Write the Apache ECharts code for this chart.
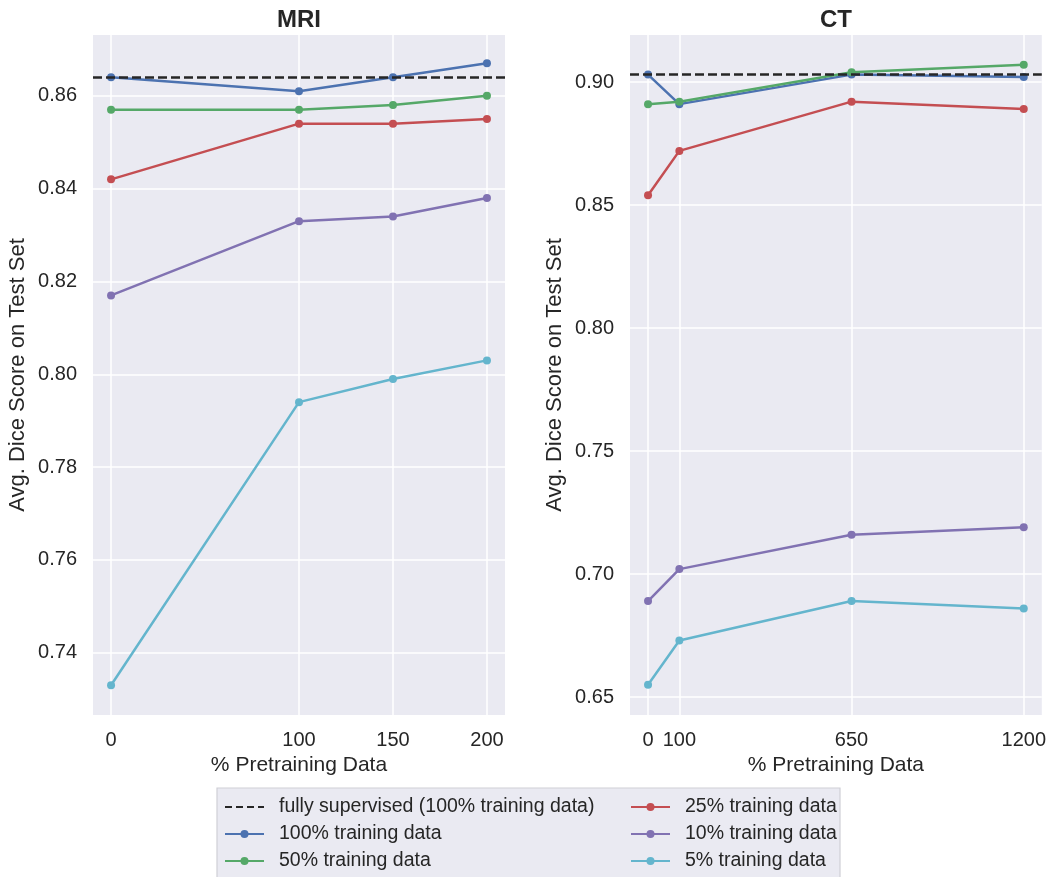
<!DOCTYPE html>
<html>
<head>
<meta charset="utf-8">
<script src="https://cdn.jsdelivr.net/npm/echarts@6/dist/echarts.min.js"></script>
<style>
html,body{margin:0;padding:0;background:#fff;}
#chart{width:1049px;height:877px;}
</style>
</head>
<body>
<div id="chart"></div>
<script>
// ---- data ----
const seriesNames = ['100% training data','50% training data','25% training data','10% training data','5% training data'];
const supervisedName = 'fully supervised (100% training data)';

const mriX = [0, 100, 150, 200];
const mriTicksX = [0, 100, 150, 200];
const mriTicksY = [0.74, 0.76, 0.78, 0.80, 0.82, 0.84, 0.86];
const mriSupervised = 0.864;
const mri100 = [0.864, 0.861, 0.864, 0.867];
const mri50  = [0.857, 0.857, 0.858, 0.860];
const mri25  = [0.842, 0.854, 0.854, 0.855];
const mri10  = [0.817, 0.833, 0.834, 0.838];
const mri5   = [0.733, 0.794, 0.799, 0.803];

const ctX = [0, 100, 650, 1200];
const ctTicksX = [0, 100, 650, 1200];
const ctTicksY = [0.65, 0.70, 0.75, 0.80, 0.85, 0.90];
const ctSupervised = 0.903;
const ct100 = [0.903, 0.891, 0.903, 0.902];
const ct50  = [0.891, 0.892, 0.904, 0.907];
const ct25  = [0.854, 0.872, 0.892, 0.889];
const ct10  = [0.689, 0.702, 0.716, 0.719];
const ct5   = [0.655, 0.673, 0.689, 0.686];

// ---- styling ----
const colors = ['#4c72b0','#55a868','#c44e52','#8172b2','#64b5cd'];
const FONT = '"Liberation Sans", Arial, sans-serif';
const TXT = '#262626';

function pairs(xs, ys){ return xs.map((x,i)=>[x, ys[i]]); }

function xAxisOpt(idx, min, max, ticks){
  return {
    type:'value', gridIndex:idx, min:min, max:max,
    name:'% Pretraining Data', nameLocation:'middle', nameGap:38,
    nameTextStyle:{fontFamily:FONT, fontSize:21, color:TXT},
    axisLine:{show:false}, axisTick:{show:false, customValues:ticks},
    axisLabel:{customValues:ticks, fontFamily:FONT, fontSize:20, color:TXT, margin:15,
      formatter:(v)=>String(v)},
    splitLine:{show:true, lineStyle:{color:'#ffffff', width:1.5}}
  };
}
function yAxisOpt(idx, min, max, ticks){
  return {
    type:'value', gridIndex:idx, min:min, max:max,
    name:'Avg. Dice Score on Test Set', nameLocation:'middle', nameGap:64,
    nameTextStyle:{fontFamily:FONT, fontSize:22, color:TXT},
    axisLine:{show:false}, axisTick:{show:false, customValues:ticks},
    axisLabel:{customValues:ticks, fontFamily:FONT, fontSize:20, color:TXT, margin:16,
      formatter:(v)=>v.toFixed(2)},
    splitLine:{show:true, lineStyle:{color:'#ffffff', width:1.5}}
  };
}

function makeSeries(idx, xs, sup, dataSets){
  const out = [{
    name: supervisedName, type:'line', xAxisIndex:idx, yAxisIndex:idx,
    data: [], symbol:'none', color:'#262626',
    lineStyle:{color:'#262626', width:2.5, type:[7,4]},
    markLine:{silent:true, symbol:'none', precision:4, label:{show:false},
      lineStyle:{color:'#262626', width:2.5, type:[9,4]},
      emphasis:{disabled:true},
      data:[{yAxis: sup}]},
    z:1
  }];
  dataSets.forEach((d,i)=>{
    out.push({
      name: seriesNames[i], type:'line', xAxisIndex:idx, yAxisIndex:idx,
      data: pairs(xs, d), symbol:'circle', symbolSize:8,
      color: colors[i], lineStyle:{color:colors[i], width:2.5},
      itemStyle:{color:colors[i]}, z:2+i
    });
  });
  return out;
}

const chart = echarts.init(document.getElementById('chart'), null, {renderer:'canvas'});
const legendCommon = {
  orient:'vertical', top:797, height:85, padding:0,
  itemWidth:39, itemHeight:10, itemGap:7,
  textStyle:{fontFamily:FONT, fontSize:19.5, color:TXT, lineHeight:20, padding:[0,0,0,10]},
  selectedMode:false
};
const option = {
  backgroundColor:'#ffffff',
  animation:false,
  title:[
    {text:'MRI', left:294, top:3, textAlign:'center',
      textStyle:{fontFamily:FONT, fontSize:24, fontWeight:'bold', color:TXT}},
    {text:'CT', left:831, top:3, textAlign:'center',
      textStyle:{fontFamily:FONT, fontSize:24, fontWeight:'bold', color:TXT}}
  ],
  graphic:[{
    type:'rect', shape:{x:217, y:788, width:623, height:100},
    style:{fill:'#eaeaf2', stroke:'#cfcfd6', lineWidth:1.2}, z:-1, silent:true
  }],
  legend:[
    Object.assign({left:224, data:[
      {name:supervisedName, itemStyle:{opacity:0}},
      seriesNames[0], seriesNames[1]]}, legendCommon),
    Object.assign({left:630, data:[seriesNames[2], seriesNames[3], seriesNames[4]]}, legendCommon)
  ],
  grid:[
    {left:93, top:35, width:412, height:680, show:true, backgroundColor:'#eaeaf2', borderWidth:0, containLabel:false},
    {left:630, top:35, width:412, height:680, show:true, backgroundColor:'#eaeaf2', borderWidth:0, containLabel:false}
  ],
  xAxis:[
    xAxisOpt(0, -9.6, 209.6, mriTicksX),
    xAxisOpt(1, -57.6, 1257.6, ctTicksX)
  ],
  yAxis:[
    yAxisOpt(0, 0.7266, 0.8731, mriTicksY),
    yAxisOpt(1, 0.6427, 0.9191, ctTicksY)
  ],
  series: [].concat(
    makeSeries(0, mriX, mriSupervised, [mri100, mri50, mri25, mri10, mri5]),
    makeSeries(1, ctX, ctSupervised, [ct100, ct50, ct25, ct10, ct5])
  )
};
chart.setOption(option);
</script>
</body>
</html>
